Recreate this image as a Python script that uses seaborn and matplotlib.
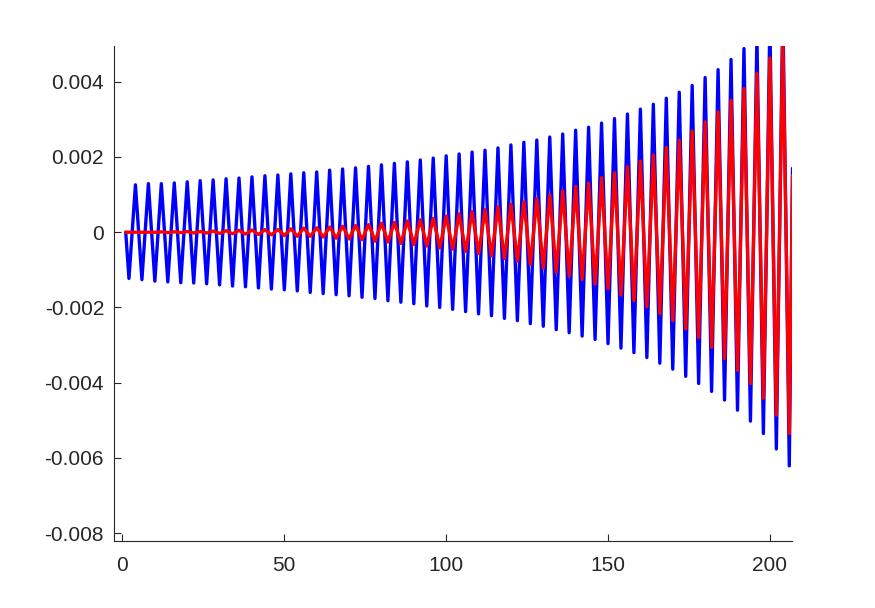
import numpy as np
import pandas as pd
import matplotlib
matplotlib.use("Agg")
import matplotlib.pyplot as plt
import seaborn as sns

# values, one list per sample type
# blue peaks at x = 4, 8, ..., 204
blue_peaks = [0.00126, 0.00129, 0.00129, 0.00131, 0.00134, 0.00137, 0.00139, 0.00142,
              0.00144, 0.00147, 0.00150, 0.00152, 0.00155, 0.00158, 0.00160, 0.00165,
              0.00168, 0.00171, 0.00175, 0.00179, 0.00183, 0.00187, 0.00192, 0.00197,
              0.00203, 0.00208, 0.00213, 0.00218, 0.00224, 0.00232, 0.00239, 0.00245,
              0.00253, 0.00261, 0.00271, 0.00279, 0.00290, 0.00302, 0.00314, 0.00327,
              0.00340, 0.00356, 0.00372, 0.00390, 0.00411, 0.00432, 0.00459, 0.00488,
              0.00520, 0.00560, 0.00600]
# blue troughs at x = 2, 6, ..., 206
blue_troughs = [-0.00123, -0.00126, -0.00130, -0.00132, -0.00134, -0.00135, -0.00137,
                -0.00140, -0.00143, -0.00145, -0.00148, -0.00151, -0.00153, -0.00156,
                -0.00160, -0.00163, -0.00166, -0.00169, -0.00173, -0.00176, -0.00182,
                -0.00186, -0.00190, -0.00196, -0.00200, -0.00205, -0.00211, -0.00217,
                -0.00222, -0.00229, -0.00235, -0.00243, -0.00250, -0.00259, -0.00267,
                -0.00276, -0.00285, -0.00296, -0.00308, -0.00320, -0.00333, -0.00348,
                -0.00364, -0.00383, -0.00402, -0.00423, -0.00446, -0.00473, -0.00502,
                -0.00535, -0.00576, -0.00621]
# red peaks at x = 4, 8, ..., 204
red_peaks = [0.0, 0.0, 0.00001, 0.00001, 0.00002, 0.00002, 0.00003, 0.00004, 0.00005,
             0.00006, 0.00007, 0.00007, 0.00009, 0.00011, 0.00012, 0.00014, 0.00016,
             0.00018, 0.00020, 0.00024, 0.00026, 0.00030, 0.00033, 0.00037, 0.00043,
             0.00049, 0.00055, 0.00060, 0.00068, 0.00074, 0.00081, 0.00089, 0.00100,
             0.00110, 0.00122, 0.00131, 0.00145, 0.00158, 0.00174, 0.00189, 0.00205,
             0.00225, 0.00245, 0.00269, 0.00293, 0.00320, 0.00351, 0.00382, 0.00422,
             0.00463, 0.00510]
# red troughs at x = 2, 6, ..., 206
red_troughs = [0.0, 0.0, 0.0, -0.00001, -0.00001, -0.00002, -0.00002, -0.00003, -0.00004,
               -0.00005, -0.00006, -0.00007, -0.00009, -0.00011, -0.00011, -0.00013,
               -0.00016, -0.00018, -0.00020, -0.00024, -0.00026, -0.00030, -0.00033,
               -0.00037, -0.00042, -0.00045, -0.00051, -0.00057, -0.00063, -0.00070,
               -0.00077, -0.00086, -0.00095, -0.00106, -0.00117, -0.00126, -0.00138,
               -0.00150, -0.00167, -0.00182, -0.00198, -0.00216, -0.00235, -0.00257,
               -0.00280, -0.00306, -0.00336, -0.00367, -0.00402, -0.00441, -0.00486,
               -0.00535]
# odd samples x = 1, 3, ..., 207 sit on the zero line except the last one
blue_mid = [0.0] * 103 + [0.0017]
red_mid = [0.0] * 103 + [0.0015]

x_ticks = [0, 50, 100, 150, 200]
y_ticks = [-0.008, -0.006, -0.004, -0.002, 0, 0.002, 0.004]
y_ticklabels = ["-0.008", "-0.006", "-0.004", "-0.002", "0", "0.002", "0.004"]


def build(mid, troughs, peaks):
    n = len(mid) + len(troughs) + len(peaks)
    vals = []
    for x in range(1, n + 1):
        if x % 2 == 1:
            vals.append(mid[(x - 1) // 2])
        elif x % 4 == 2:
            vals.append(troughs[(x - 2) // 4])
        else:
            vals.append(peaks[x // 4 - 1])
    return pd.DataFrame({"x": np.arange(1, n + 1), "y": vals})


blue = build(blue_mid, blue_troughs, blue_peaks)
red = build(red_mid, red_troughs, red_peaks)

sns.set_style("ticks")
plt.rcParams["font.family"] = ["Liberation Sans", "DejaVu Sans"]

fig = plt.figure(figsize=(8.75, 6.08), dpi=100)
ax = fig.add_axes([0.13, 0.11, 0.775, 0.815])

sns.lineplot(data=blue, x="x", y="y", color="#0000ff", linewidth=2.4,
             estimator=None, ax=ax)
sns.lineplot(data=red, x="x", y="y", color="#ff0000", linewidth=2.4,
             estimator=None, ax=ax)

ax.set_xlim(-2.7, 206.8)
ax.set_ylim(-0.00821, 0.00496)
ax.set_xticks(x_ticks)
ax.set_yticks(y_ticks)
ax.set_yticklabels(y_ticklabels)
ax.set_xlabel("")
ax.set_ylabel("")

sns.despine(ax=ax)
for side in ["left", "bottom"]:
    ax.spines[side].set_color("#262626")
    ax.spines[side].set_linewidth(0.8)
ax.tick_params(direction="in", length=5, width=0.8, colors="#262626",
               labelsize=15)
ax.tick_params(axis="x", pad=11)
ax.tick_params(axis="y", pad=7)

fig.savefig("out.png", dpi=100)
